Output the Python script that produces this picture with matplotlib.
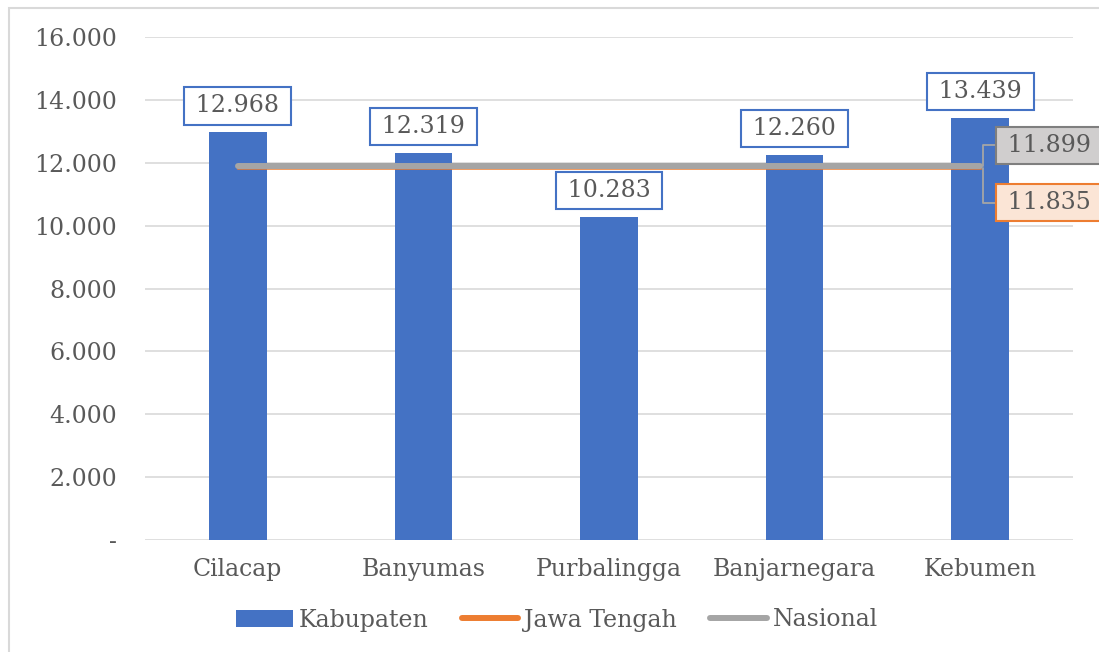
import matplotlib
matplotlib.use('Agg')
import matplotlib.pyplot as plt
from matplotlib.patches import Rectangle
from matplotlib.lines import Line2D
from matplotlib.ticker import FuncFormatter

# data
kabupaten = ['Cilacap', 'Banyumas', 'Purbalingga', 'Banjarnegara', 'Kebumen']
nilai_kab = [12968, 12319, 10283, 12260, 13439]
jawa_tengah = 11835
nasional = 11899
yticks = [0, 2000, 4000, 6000, 8000, 10000, 12000, 14000, 16000]

BLUE = '#4472C4'
ORANGE = '#ED7D31'
GRAY = '#A5A5A5'
TXT = '#595959'
FS = 17

plt.rcParams['font.family'] = ['DejaVu Serif']
plt.rcParams['font.size'] = FS

W, H = 1099, 652
fig = plt.figure(figsize=(W / 100, H / 100), dpi=100)
ax = fig.add_axes([145 / W, 1 - 540 / H, (1073 - 145) / W, (540 - 37) / H])

x = list(range(len(kabupaten)))
bars = ax.bar(x, nilai_kab, width=0.31, color=BLUE, label='Kabupaten', zorder=2)
ax.plot([x[0], x[-1]], [jawa_tengah] * 2, color=ORANGE, lw=1.8, zorder=3)
ax.plot([x[0], x[-1]], [nasional] * 2, color=GRAY, lw=4.3, zorder=4,
        solid_capstyle='round')

ax.set_xlim(-0.5, len(kabupaten) - 0.5)
ax.set_ylim(0, 16000)
ax.set_yticks(yticks)
ax.yaxis.set_major_formatter(FuncFormatter(
    lambda v, p: '-' if v == 0 else f'{int(v):,}'.replace(',', '.')))
ax.set_xticks(x)
ax.set_xticklabels(kabupaten)
ax.tick_params(axis='y', length=0, pad=20, colors=TXT, labelsize=FS)
ax.tick_params(axis='x', length=0, pad=13, colors=TXT, labelsize=FS)
ax.grid(axis='y', color='#D9D9D9', lw=1.2, zorder=0)
for s in ax.spines.values():
    s.set_visible(False)

fmt = lambda v: '\u2009' + f'{v:,}'.replace(',', '.') + '\u2009'

# bar labels
for xi, v in zip(x, nilai_kab):
    ax.annotate(fmt(v), xy=(xi, v), xytext=(0, 19), textcoords='offset points',
                ha='center', va='center', color=TXT, fontsize=FS, zorder=5,
                bbox=dict(boxstyle='square,pad=0.3', fc='white', ec=BLUE, lw=1.5))

# line labels at the right end
conn = dict(arrowstyle='-', color=GRAY, lw=1.3, shrinkA=0, shrinkB=0,
            connectionstyle='angle,angleA=0,angleB=90,rad=0')
ax.annotate(fmt(nasional), xy=(x[-1] + 0.016, nasional), xytext=(14, 15),
            textcoords='offset points', ha='left', va='center', color=TXT,
            fontsize=FS, annotation_clip=False, zorder=6,
            bbox=dict(boxstyle='square,pad=0.3', fc='#D0CECE', ec='#7F7F7F', lw=1.5),
            arrowprops=conn)
ax.annotate(fmt(jawa_tengah), xy=(x[-1] + 0.016, jawa_tengah), xytext=(14, -25),
            textcoords='offset points', ha='left', va='center', color=TXT,
            fontsize=FS, annotation_clip=False, zorder=6,
            bbox=dict(boxstyle='square,pad=0.3', fc='#FBE5D6', ec=ORANGE, lw=1.5),
            arrowprops=conn)

handles = [bars,
           Line2D([], [], color=ORANGE, lw=4.3, solid_capstyle='round'),
           Line2D([], [], color=GRAY, lw=4.3, solid_capstyle='round')]
labels = ['Kabupaten', 'Jawa Tengah', 'Nasional']
fig.legend(handles, labels, loc='center', bbox_to_anchor=(0.507, 1 - 620 / H), ncol=3,
           frameon=False, fontsize=FS, handlelength=2.4, handletextpad=0.25,
           columnspacing=1.4, labelcolor=TXT)

# outer chart frame
fig.patches.append(Rectangle((9 / W, -0.1), 1.2, 1.1 - 8 / H, transform=fig.transFigure,
                             fill=False, ec='#D9D9D9', lw=1.5))

fig.savefig('out.png', dpi=100)
